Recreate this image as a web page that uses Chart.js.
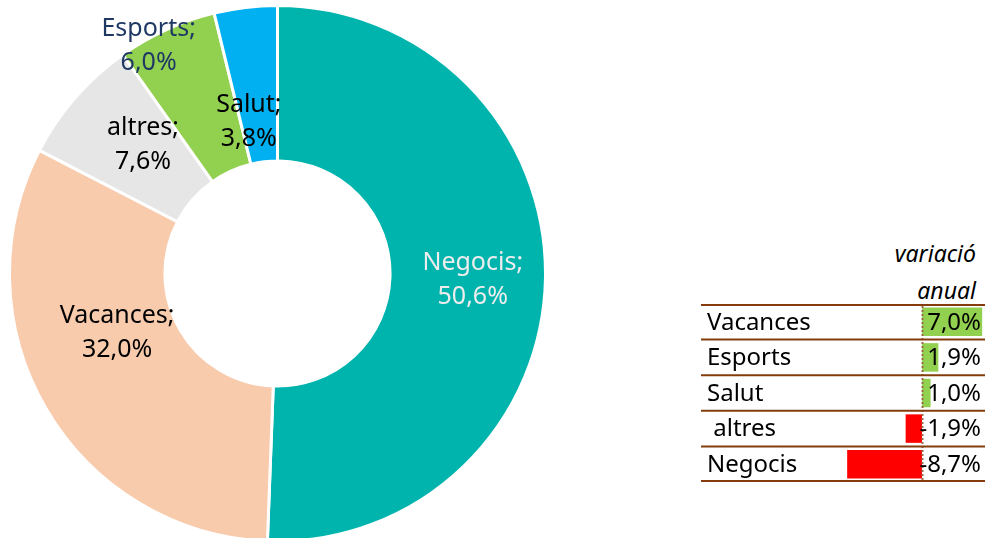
<!DOCTYPE html>
<html lang="ca">
<head>
  <meta charset="UTF-8" />
  <title>Quota i variació anual</title>
  <script src="https://cdn.jsdelivr.net/npm/chart.js"></script>
  <style>
    html, body {
      margin: 0;
      padding: 0;
      width: 985px;
      height: 538px;
      overflow: hidden;
      background: #fff;
      font-family: "Noto Sans", sans-serif;
    }
    #donut-box {
      position: absolute;
      left: 8px;
      top: 4px;
      width: 539px;
      height: 539px;
    }
    #table-head {
      position: absolute;
      left: 780px;
      top: 235px;
      width: 196px;
      text-align: right;
      font-style: italic;
      font-size: 23px;
      line-height: 37px;
      color: #000;
    }
    #bars-box {
      position: absolute;
      left: 701px;
      top: 304px;
      width: 284px;
      height: 178px;
    }
  </style>
</head>
<body>
  <div id="donut-box"><canvas id="donut"></canvas></div>
  <div id="table-head">variació<br>anual</div>
  <div id="bars-box"><canvas id="bars"></canvas></div>

  <script>
    // quota per motiu de viatge (%)
    const shareLabels = ['Negocis', 'Vacances', 'altres', 'Esports', 'Salut'];
    const shareValues = [50.6, 32.0, 7.6, 6.0, 3.8];
    const shareColors = ['#00B4AE', '#F8CBAD', '#E6E6E6', '#92D050', '#00B0F0'];
    const shareTextColors = ['#EDEDED', '#000000', '#000000', '#1F3864', '#000000'];

    // variació anual (%)
    const varLabels = ['Vacances', 'Esports', 'Salut', ' altres', 'Negocis'];
    const varValues = [7.0, 1.9, 1.0, -1.9, -8.7];

    const fmt = v => v.toFixed(1).replace('.', ',') + '%';

    // labels moved by hand in the original, like in Excel
    const labelShift = [[5, 3], [4, -36], [9, -4], [-50, -54], [-6, 37]];

    const donutLabels = {
      id: 'donutLabels',
      afterDatasetsDraw(chart) {
        const ctx = chart.ctx;
        const meta = chart.getDatasetMeta(0);
        ctx.save();
        ctx.font = '25px "Noto Sans", sans-serif';
        ctx.textAlign = 'center';
        ctx.textBaseline = 'middle';
        meta.data.forEach((arc, i) => {
          const p = arc.tooltipPosition();
          const x = p.x + labelShift[i][0];
          const y = p.y + labelShift[i][1];
          ctx.fillStyle = shareTextColors[i];
          ctx.fillText(shareLabels[i] + ';', x, y - 17);
          ctx.fillText(fmt(shareValues[i]), x, y + 17);
        });
        ctx.restore();
      }
    };

    new Chart(document.getElementById('donut'), {
      type: 'doughnut',
      data: {
        labels: shareLabels,
        datasets: [{
          data: shareValues,
          backgroundColor: shareColors,
          borderColor: '#ffffff',
          borderWidth: 3
        }]
      },
      options: {
        responsive: true,
        maintainAspectRatio: false,
        animation: false,
        cutout: '42%',
        layout: { padding: 0 },
        plugins: { legend: { display: false }, tooltip: { enabled: false } }
      },
      plugins: [donutLabels]
    });

    const tableDraw = {
      id: 'tableDraw',
      afterDatasetsDraw(chart) {
        const ctx = chart.ctx;
        const area = chart.chartArea;
        const yScale = chart.scales.y;
        const xScale = chart.scales.x;
        const n = varLabels.length;
        const rowH = (area.bottom - area.top) / n;
        ctx.save();
        // dashed zero line
        const x0 = Math.round(xScale.getPixelForValue(0)) + 0.5;
        ctx.strokeStyle = '#9C6B4A';
        ctx.lineWidth = 2;
        ctx.setLineDash([2, 2]);
        ctx.beginPath();
        ctx.moveTo(x0, area.top + 2);
        ctx.lineTo(x0, area.bottom);
        ctx.stroke();
        ctx.setLineDash([]);
        // row lines
        ctx.strokeStyle = '#843C0C';
        ctx.lineWidth = 2;
        for (let i = 0; i <= n; i++) {
          const y = area.top + i * rowH + (i === 0 ? 1 : (i === n ? -1 : 0));
          ctx.beginPath();
          ctx.moveTo(area.left, y);
          ctx.lineTo(area.right, y);
          ctx.stroke();
        }
        // texts
        ctx.fillStyle = '#000';
        ctx.font = '24px "Noto Sans", sans-serif';
        ctx.textBaseline = 'middle';
        varLabels.forEach((lab, i) => {
          const y = yScale.getPixelForValue(i) + 1;
          ctx.textAlign = 'left';
          ctx.fillText(lab, area.left + 6, y);
          ctx.textAlign = 'right';
          ctx.fillText(fmt(varValues[i]), area.right - 4, y);
        });
        ctx.restore();
      }
    };

    new Chart(document.getElementById('bars'), {
      type: 'bar',
      data: {
        labels: varLabels,
        datasets: [{
          data: varValues,
          backgroundColor: varValues.map(v => v >= 0 ? '#92D050' : '#FF0000'),
          barPercentage: 0.8,
          categoryPercentage: 1
        }]
      },
      options: {
        indexAxis: 'y',
        responsive: true,
        maintainAspectRatio: false,
        animation: false,
        layout: { padding: 0 },
        plugins: { legend: { display: false }, tooltip: { enabled: false } },
        scales: {
          x: { display: false, min: -25.7, max: 7.33 },
          y: { display: false }
        }
      },
      plugins: [tableDraw]
    });
  </script>
</body>
</html>
